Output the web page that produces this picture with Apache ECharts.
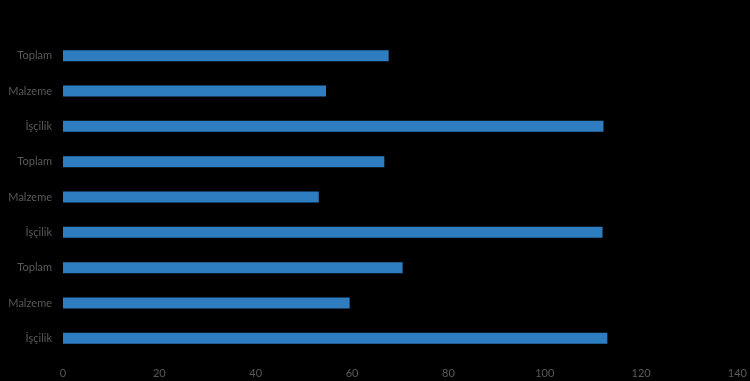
<!DOCTYPE html>
<html>
<head>
<meta charset="utf-8">
<script src="https://cdn.jsdelivr.net/npm/echarts@6/dist/echarts.min.js"></script>
<style>html,body{margin:0;padding:0;background:#000;}#c{width:750px;height:381px;}</style>
</head>
<body>
<div id="c"></div>
<script>
// Categories listed bottom to top
var categories = ['İşçilik', 'Malzeme', 'Toplam', 'İşçilik', 'Malzeme', 'Toplam', 'İşçilik', 'Malzeme', 'Toplam'];
var values = [113.0, 59.5, 70.5, 112.0, 53.1, 66.7, 112.2, 54.6, 67.6];
var xTicks = [0, 20, 40, 60, 80, 100, 120, 140];

var chart = echarts.init(document.getElementById('c'));
chart.setOption({
  backgroundColor: '#000000',
  animation: false,
  grid: { left: 63, right: 12, top: 38, bottom: 25, containLabel: false },
  xAxis: {
    type: 'value',
    min: xTicks[0],
    max: xTicks[xTicks.length - 1],
    interval: 20,
    axisLine: { show: false },
    axisTick: { show: false },
    splitLine: { show: false },
    axisLabel: { color: '#595959', fontFamily: 'Lato', fontSize: 11, margin: 12 }
  },
  yAxis: {
    type: 'category',
    data: categories.map(function (c, i) { return String(i); }),
    axisLine: { show: false },
    axisTick: { show: false },
    splitLine: { show: false },
    axisLabel: {
      color: '#595959', fontFamily: 'Lato', fontSize: 11, margin: 11,
      formatter: function (v) { return categories[+v]; }
    }
  },
  series: [{
    type: 'bar',
    data: values,
    barWidth: 11,
    itemStyle: { color: '#2e7dc1' }
  }]
});
</script>
</body>
</html>
